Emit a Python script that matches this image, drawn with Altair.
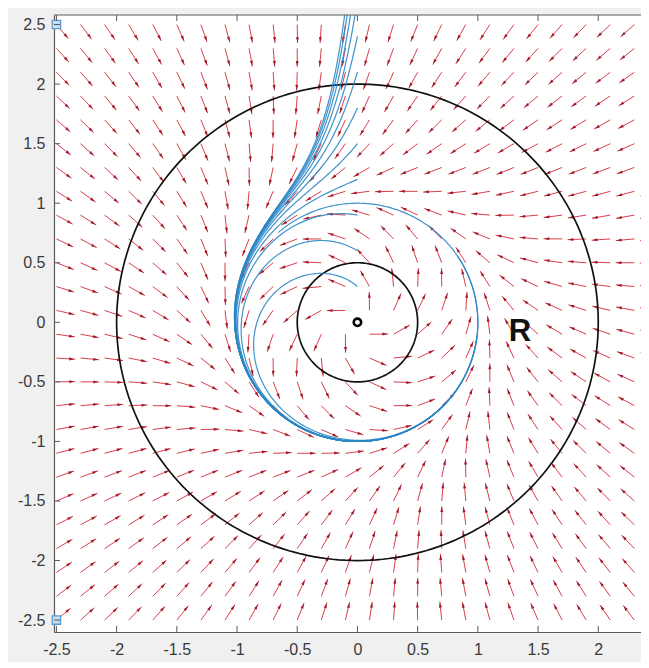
import math
import pandas as pd
import altair as alt

# ---------------- data ----------------
X_TICKS = [-2.5, -2, -1.5, -1, -0.5, 0, 0.5, 1, 1.5, 2]
Y_TICKS = [-2.5, -2, -1.5, -1, -0.5, 0, 0.5, 1, 1.5, 2, 2.5]
# quiver grid (step 0.2 from -2.5)
GRID = [-2.5, -2.3, -2.1, -1.9, -1.7, -1.5, -1.3, -1.1, -0.9, -0.7, -0.5, -0.3, -0.1,
        0.1, 0.3, 0.5, 0.7, 0.9, 1.1, 1.3, 1.5, 1.7, 1.9, 2.1, 2.3, 2.5]
# system shown: x' = x - y - x(x^2+y^2),  y' = x + y - y(x^2+y^2)
# trajectory start points (on the y axis) and integration times
START_X = [0.0] * 12
START_Y = [0.3, 0.6, 0.9, 1.2, 1.5, 1.8, 2.1, 2.4, 2.7, 3.0, 3.3, 3.6]
DURATION = [4.6, 3.9, 7.0, 3.3, 3.6, 2.9, 4.2, 3.0, 5.3, 3.5, 4.0, 3.2]
RING_R = [2.0, 0.5]
LABEL = ["R"]
LABEL_X = [1.35]
LABEL_Y = [-0.08]
CORNER_X = [-2.5, -2.5]
CORNER_Y = [2.5, -2.5]

XDOM = [-2.52, 2.355]
YDOM = [-2.6, 2.58]
ARROW_LEN = 0.155


def field(x, y):
    r2 = x * x + y * y
    return x - y - x * r2, x + y - y * r2


# quiver data
rows = []
for gx in GRID:
    for gy in GRID:
        u, v = field(gx, gy)
        m = math.hypot(u, v) or 1.0
        ux, vy = u / m, v / m
        x1, y1 = gx + ARROW_LEN * ux, gy + ARROW_LEN * vy
        ang = (math.degrees(math.atan2(ux, vy)) + 360.0) % 360.0
        rows.append(dict(x=gx, y=gy, x2=x1, y2=y1,
                         hx=gx + ARROW_LEN * 0.82 * ux, hy=gy + ARROW_LEN * 0.82 * vy, ang=ang))
quiver = pd.DataFrame(rows)


def rk4(x0, y0, T, dt=0.004):
    pts = [(x0, y0)]
    x, y = x0, y0
    n = int(T / dt)
    for _ in range(n):
        k1 = field(x, y)
        k2 = field(x + dt / 2 * k1[0], y + dt / 2 * k1[1])
        k3 = field(x + dt / 2 * k2[0], y + dt / 2 * k2[1])
        k4 = field(x + dt * k3[0], y + dt * k3[1])
        x += dt / 6 * (k1[0] + 2 * k2[0] + 2 * k3[0] + k4[0])
        y += dt / 6 * (k1[1] + 2 * k2[1] + 2 * k3[1] + k4[1])
        lx, ly = pts[-1]
        if math.hypot(x - lx, y - ly) > 0.012:
            pts.append((x, y))
    pts.append((x, y))
    return pts


trows = []
for i, (sx, sy, T) in enumerate(zip(START_X, START_Y, DURATION)):
    for k, (px, py) in enumerate(rk4(sx, sy, T)):
        trows.append(dict(traj=i, k=k, x=px, y=py))
trajs = pd.DataFrame(trows)

crows = []
for j, r in enumerate(RING_R):
    for k in range(241):
        t = 2 * math.pi * k / 240
        crows.append(dict(ring=j, k=k, x=r * math.cos(t), y=r * math.sin(t)))
rings = pd.DataFrame(crows)

# ---------------- chart ----------------
xs = alt.Scale(domain=XDOM, nice=False, zero=False)
ys = alt.Scale(domain=YDOM, nice=False, zero=False)

AX_COL = "#5a5a5a"
LAB_COL = "#3a3a3a"
FONT = "Liberation Sans"

x_axis = alt.Axis(values=X_TICKS, title=None, grid=False, tickSize=0, labelPadding=9,
                  labelExpr="'' + datum.value", labelFontSize=16, labelColor=LAB_COL,
                  labelFont=FONT, domainColor=AX_COL, domainWidth=1.2)
y_axis = alt.Axis(values=Y_TICKS, title=None, grid=False, tickSize=0, labelPadding=9,
                  labelExpr="'' + datum.value", labelFontSize=16, labelColor=LAB_COL,
                  labelFont=FONT, domainColor=AX_COL, domainWidth=1.2)

RED = "#d42a36"

shafts = alt.Chart(quiver).mark_rule(color=RED, strokeWidth=1.0, clip=True, opacity=0.9).encode(
    x=alt.X("x:Q", scale=xs, axis=x_axis),
    y=alt.Y("y:Q", scale=ys, axis=y_axis),
    x2="x2:Q", y2="y2:Q")

heads = alt.Chart(quiver).mark_point(
    shape="M0,-1L0.55,0.9L-0.55,0.9Z", filled=True, size=30, color="#a31b2a",
    opacity=1, clip=True).encode(
    x=alt.X("hx:Q", scale=xs), y=alt.Y("hy:Q", scale=ys),
    angle=alt.Angle("ang:Q", scale=None))

ring_layer = alt.Chart(rings).mark_line(color="#111111", strokeWidth=1.7, clip=True).encode(
    x=alt.X("x:Q", scale=xs), y=alt.Y("y:Q", scale=ys),
    detail="ring:N", order="k:Q")

traj_layer = alt.Chart(trajs).mark_line(color="#2b86c5", strokeWidth=1.2, clip=True,
                                        opacity=0.9).encode(
    x=alt.X("x:Q", scale=xs), y=alt.Y("y:Q", scale=ys),
    detail="traj:N", order="k:Q")

origin = alt.Chart(pd.DataFrame({"x": [0.0], "y": [0.0]})).mark_point(
    shape="circle", size=55, filled=False, color="#000000", strokeWidth=2.6,
    opacity=1).encode(
    x=alt.X("x:Q", scale=xs), y=alt.Y("y:Q", scale=ys))

label = alt.Chart(pd.DataFrame({"t": LABEL, "x": LABEL_X, "y": LABEL_Y})).mark_text(
    font=FONT, fontSize=31, fontWeight="bold", color="#111111").encode(
    x=alt.X("x:Q", scale=xs), y=alt.Y("y:Q", scale=ys), text="t:N")

corners = alt.Chart(pd.DataFrame({"x": CORNER_X, "y": CORNER_Y})).mark_point(
    shape="square", size=70, filled=True, fill="#c9def0", stroke="#5b9bd0",
    strokeWidth=1.3, opacity=1).encode(
    x=alt.X("x:Q", scale=xs), y=alt.Y("y:Q", scale=ys))

tick_len_y = 6 / 119.0
tick_len_x = 6 / 120.4
bt = pd.DataFrame({"x": X_TICKS, "y": [YDOM[0]] * len(X_TICKS),
                   "y2": [YDOM[0] + tick_len_y] * len(X_TICKS)})
tt = pd.DataFrame({"x": X_TICKS, "y": [YDOM[1]] * len(X_TICKS),
                   "y2": [YDOM[1] - tick_len_y] * len(X_TICKS)})
lt = pd.DataFrame({"x": [XDOM[0]] * len(Y_TICKS), "x2": [XDOM[0] + tick_len_x] * len(Y_TICKS),
                   "y": Y_TICKS})
xt = alt.Chart(pd.concat([bt, tt])).mark_rule(color=AX_COL, strokeWidth=1).encode(
    x=alt.X("x:Q", scale=xs), y=alt.Y("y:Q", scale=ys), y2="y2:Q")
ytk = alt.Chart(lt).mark_rule(color=AX_COL, strokeWidth=1).encode(
    x=alt.X("x:Q", scale=xs), x2="x2:Q", y=alt.Y("y:Q", scale=ys))
top_line = alt.Chart(pd.DataFrame({"y": [YDOM[1]]})).mark_rule(
    color=AX_COL, strokeWidth=1.2).encode(y=alt.Y("y:Q", scale=ys))

chart = alt.layer(shafts, heads, ring_layer, traj_layer, origin, label, corners,
                  xt, ytk, top_line).properties(
    width=587, height=617,
    padding={"left": 46, "top": 7, "right": 0, "bottom": 30},
    autosize=alt.AutoSizeParams(type="none"),
).configure(background="#f0f0f0").configure_view(fill="white", stroke=None)

chart.save("out.html", embed_options={"renderer": "svg", "actions": False})
